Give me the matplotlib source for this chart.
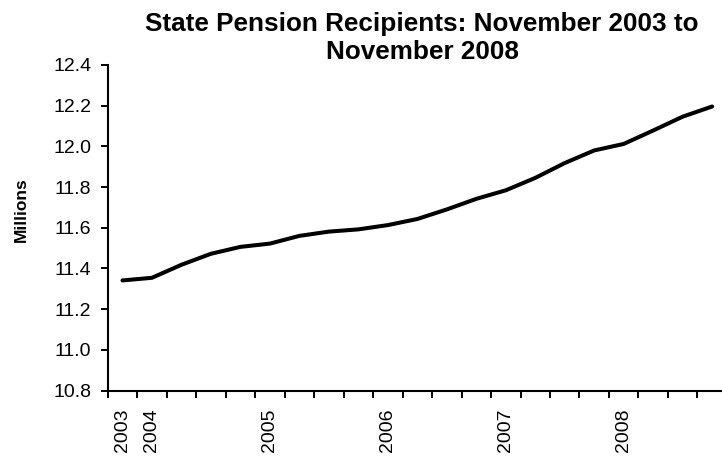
import matplotlib

matplotlib.use("Agg")
import matplotlib.pyplot as plt
import numpy as np

plt.rcParams["font.family"] = ["Liberation Sans", "DejaVu Sans"]

# quarterly, November 2003 .. November 2008 (millions)
periods = ["Nov 2003", "Feb 2004", "May 2004", "Aug 2004", "Nov 2004",
           "Feb 2005", "May 2005", "Aug 2005", "Nov 2005",
           "Feb 2006", "May 2006", "Aug 2006", "Nov 2006",
           "Feb 2007", "May 2007", "Aug 2007", "Nov 2007",
           "Feb 2008", "May 2008", "Aug 2008", "Nov 2008"]
recipients = [11.341, 11.354, 11.418, 11.472, 11.506,
              11.522, 11.560, 11.581, 11.592,
              11.613, 11.643, 11.690, 11.742,
              11.784, 11.845, 11.918, 11.980,
              12.012, 12.078, 12.146, 12.196]
year_labels = ["2003", "2004", "2005", "2006", "2007", "2008"]
year_label_idx = [0, 1, 5, 9, 13, 17]
y_ticks = [10.8, 11.0, 11.2, 11.4, 11.6, 11.8, 12.0, 12.2, 12.4]

fig = plt.figure(figsize=(7.22, 4.57), dpi=100)
# plot area runs a little past the right edge, as in the original
ax = fig.add_axes([0.1492, 0.1455, 0.8576, 0.7123])

x = np.arange(len(periods))
ax.plot(x, recipients, color="black", lw=2.9, solid_capstyle="round")

ax.set_xlim(-0.5, len(periods) - 0.5)
ax.set_ylim(10.8, 12.4)
ax.set_yticks(y_ticks)
ax.set_yticklabels([f"{v:.1f}" for v in y_ticks], fontsize=14)

# tick marks between categories, labels at category centres
ax.set_xticks(np.arange(len(periods) + 1) - 0.5)
ax.set_xticklabels([])
ax.set_xticks(year_label_idx, minor=True)
ax.set_xticklabels(year_labels, minor=True, rotation=90, fontsize=14)
ax.tick_params(axis="x", which="minor", length=0, pad=13)
ax.tick_params(axis="both", which="major", length=4.7, width=1.4,
               direction="out")
ax.tick_params(axis="y", pad=7)

for s in ("top", "right"):
    ax.spines[s].set_visible(False)
for s in ("left", "bottom"):
    ax.spines[s].set_linewidth(1.5)

# y title sits a bit above the middle of the axis
fig.text(0.029, 0.541, "Millions", rotation=90, ha="center", va="center",
         fontsize=12.5, fontweight="bold")
fig.text(0.5845, 0.917, "State Pension Recipients: November 2003 to\nNovember 2008",
         ha="center", va="center", fontsize=18.8, fontweight="bold",
         linespacing=1.18)

fig.savefig("out.png", dpi=100)
